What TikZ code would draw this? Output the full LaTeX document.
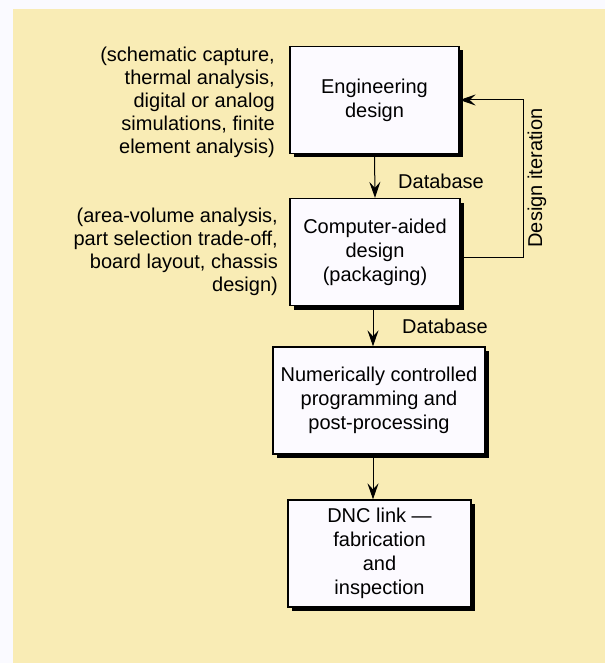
\documentclass[tikz,border=0pt]{standalone}
\usepackage{fontspec}
\setmainfont{Liberation Sans}
\usetikzlibrary{shadows,arrows.meta,calc}
\definecolor{bgyellow}{RGB}{249,236,181}
\definecolor{boxfill}{RGB}{252,250,255}
\definecolor{margin}{RGB}{250,250,255}
\begin{document}
\begin{tikzpicture}[x=1pt,y=-1pt,
  font=\fontsize{20}{24}\selectfont,
  procbox/.style={draw=black, line width=1.3pt, fill=boxfill, align=center, inner sep=0pt,
    minimum height=107pt,
    drop shadow={shadow xshift=4pt, shadow yshift=-4pt, fill=black, opacity=1}},
  note/.style={align=right, anchor=east, inner sep=0pt, font=\fontsize{20}{23}\selectfont},
  lbl/.style={anchor=west, inner sep=0pt},
  arr/.style={line width=1pt, -{Stealth[length=16pt,width=11pt,inset=6pt]}}]
\useasboundingbox (0,0) rectangle (605,663);
\fill[margin] (0,0) rectangle (605,663);
\fill[bgyellow] (13,9) rectangle (605,663);

\node[procbox, minimum width=169pt] (b1) at (374.5,100) {Engineering\\design};
\node[procbox, minimum width=170pt] (b2) at (375,252) {Computer-aided\\design\\(packaging)};
\node[procbox, minimum width=212pt] (b3) at (379,400.5) {Numerically controlled\\programming and\\post-processing};
\node[procbox, minimum width=183pt] (b4) at (379.5,553.5) {DNC link ---\\fabrication\\and\\inspection};

\node[note] (n1) at (275,102) {(schematic capture,\\thermal analysis,\\digital or analog\\simulations, finite\\element analysis)};
\node[note] (n2) at (278,252) {(area-volume analysis,\\part selection trade-off,\\board layout, chassis\\design)};

\node[lbl] (d1) at (398,181) {Database};
\node[lbl] (d2) at (402,326) {Database};
\node[rotate=90, inner sep=0pt] (it) at (537,178) {Design iteration};

\coordinate (ax) at (373,0);
\coordinate (fb) at (523,100);

\draw[arr] (b1.south) -- (b2.north);
\draw[arr] (b2.south -| ax) -- (b3.north -| ax);
\draw[arr] (b3.south -| ax) -- (b4.north -| ax);
\draw[arr] ($(b2.east)+(0,5)$) -| (fb) -- (b1.east |- fb);
\end{tikzpicture}
\end{document}
